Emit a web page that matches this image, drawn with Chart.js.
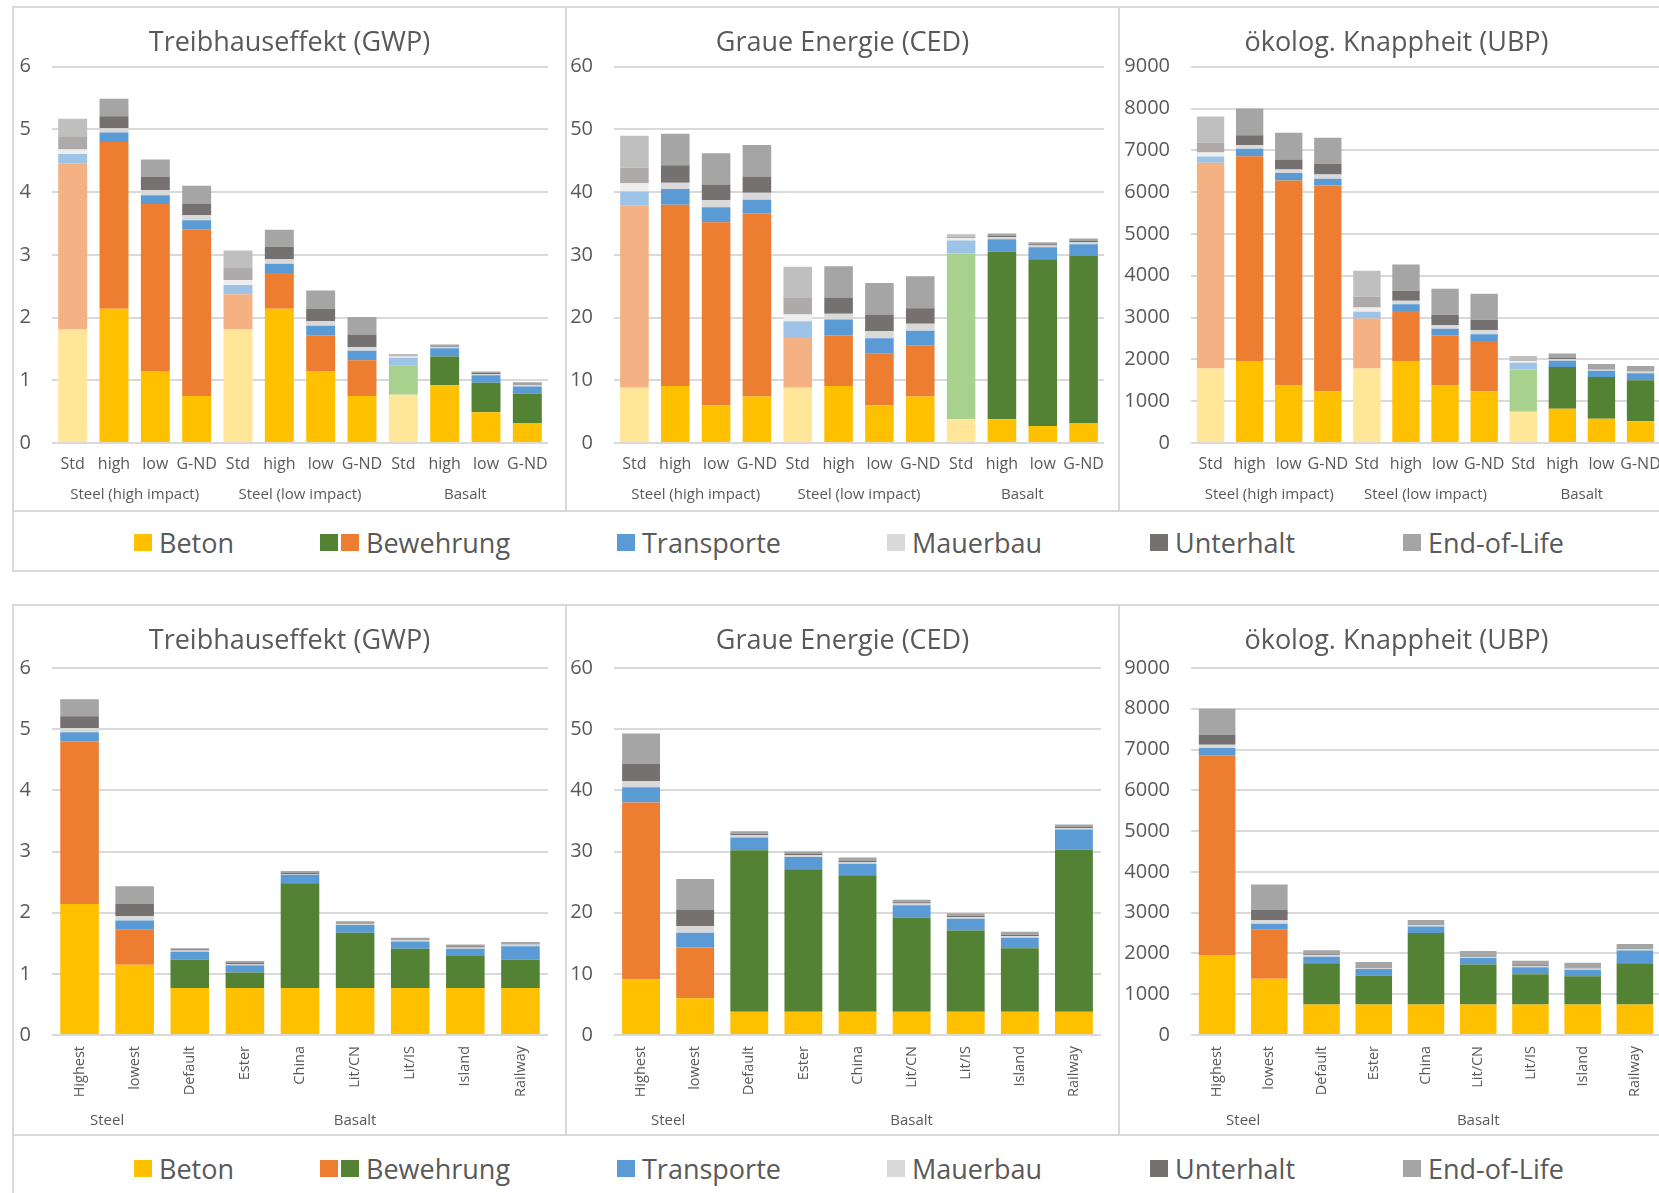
<!DOCTYPE html>
<html lang="de">
<head>
<meta charset="utf-8">
<title>Ökobilanz Bewehrung</title>
<script src="https://cdn.jsdelivr.net/npm/chart.js@4.4.1/dist/chart.umd.min.js"></script>
<style>
  html, body { margin: 0; padding: 0; background: #fff; }
  body { width: 1659px; height: 1193px; overflow: hidden; position: relative; font-family: 'Open Sans', sans-serif; }
  .line { position: absolute; background: #d9d9d9; }
  canvas { position: absolute; }
  .legend-item { position: absolute; display: flex; align-items: center; height: 40px; color: #595959; font-size: 27px; white-space: nowrap; }
  .sw { width: 18px; height: 17px; margin-right: 3px; }
  .legend-text { margin-left: 4px; }
</style>
</head>
<body>

<!-- frame, upper block -->
<div class="line" style="left:12px; top:6px; width:1700px; height:2px"></div>
<div class="line" style="left:12px; top:6px; width:2px; height:566px"></div>
<div class="line" style="left:565px; top:6px; width:2px; height:506px"></div>
<div class="line" style="left:1118px; top:6px; width:2px; height:506px"></div>
<div class="line" style="left:12px; top:510px; width:1700px; height:2px"></div>
<div class="line" style="left:12px; top:570px; width:1700px; height:2px"></div>

<!-- frame, lower block -->
<div class="line" style="left:12px; top:604px; width:1700px; height:2px"></div>
<div class="line" style="left:12px; top:604px; width:2px; height:600px"></div>
<div class="line" style="left:565px; top:604px; width:2px; height:532px"></div>
<div class="line" style="left:1118px; top:604px; width:2px; height:532px"></div>
<div class="line" style="left:12px; top:1134px; width:1700px; height:2px"></div>

<canvas id="gwpTop" width="551" height="502" style="left:14px; top:8px"></canvas>
<canvas id="cedTop" width="551" height="502" style="left:567px; top:8px"></canvas>
<canvas id="ubpTop" width="553" height="502" style="left:1120px; top:8px"></canvas>

<canvas id="gwpBottom" width="551" height="528" style="left:14px; top:606px"></canvas>
<canvas id="cedBottom" width="551" height="528" style="left:567px; top:606px"></canvas>
<canvas id="ubpBottom" width="553" height="528" style="left:1120px; top:606px"></canvas>

<div id="legendTop"></div>
<div id="legendBottom"></div>

<script>
const seriesNames = ['Beton', 'Bewehrung', 'Transporte', 'Mauerbau', 'Unterhalt', 'End-of-Life'];

// upper row: reinforcement variants
const topCategories = ['Std', 'high', 'low', 'G-ND', 'Std', 'high', 'low', 'G-ND', 'Std', 'high', 'low', 'G-ND'];
const topGroups = ['Steel (high impact)', 'Steel (low impact)', 'Basalt'];
const topGroupSpans = [[0, 3], [4, 7], [8, 11]];
const topMaterial = ['steel', 'steel', 'steel', 'steel', 'steel', 'steel', 'steel', 'steel', 'basalt', 'basalt', 'basalt', 'basalt'];
const topStd = [true, false, false, false, true, false, false, false, true, false, false, false];

// lower row: basalt origins
const bottomCategories = ['Highest', 'lowest', 'Default', 'Ester', 'China', 'Lit/CN', 'Lit/IS', 'Island', 'Railway'];
const bottomGroups = ['Steel', 'Basalt'];
const bottomGroupSpans = [[0, 1], [2, 8]];
const bottomMaterial = ['steel', 'steel', 'basalt', 'basalt', 'basalt', 'basalt', 'basalt', 'basalt', 'basalt'];
const bottomStd = [false, false, false, false, false, false, false, false, false];

// rows follow seriesNames: Beton, Bewehrung, Transporte, Mauerbau, Unterhalt, End-of-Life
const gwpTop = [
  [1.81, 2.14, 1.15, 0.75, 1.81, 2.14, 1.15, 0.75, 0.77, 0.92, 0.49, 0.32],
  [2.65, 2.66, 2.66, 2.65, 0.56, 0.57, 0.57, 0.57, 0.46, 0.46, 0.47, 0.47],
  [0.15, 0.15, 0.14, 0.15, 0.15, 0.15, 0.15, 0.15, 0.13, 0.13, 0.12, 0.11],
  [0.07, 0.07, 0.08, 0.08, 0.08, 0.07, 0.07, 0.06, 0.02, 0.02, 0.02, 0.03],
  [0.21, 0.19, 0.21, 0.19, 0.19, 0.20, 0.20, 0.20, 0.02, 0.01, 0.02, 0.02],
  [0.28, 0.28, 0.28, 0.28, 0.28, 0.27, 0.29, 0.28, 0.02, 0.03, 0.02, 0.02]
];
const cedTop = [
  [8.8, 9.1, 6.0, 7.4, 8.8, 9.1, 6.0, 7.4, 3.8, 3.8, 2.7, 3.2],
  [29.1, 28.9, 29.2, 29.2, 8.1, 8.1, 8.3, 8.2, 26.4, 26.7, 26.6, 26.7],
  [2.2, 2.5, 2.4, 2.2, 2.5, 2.5, 2.4, 2.3, 2.1, 2.0, 1.9, 1.8],
  [1.3, 1.0, 1.1, 1.1, 1.1, 0.9, 1.1, 1.1, 0.4, 0.3, 0.3, 0.3],
  [2.5, 2.8, 2.5, 2.6, 2.6, 2.6, 2.7, 2.5, 0.2, 0.2, 0.2, 0.2],
  [5.1, 5.0, 5.0, 5.0, 5.0, 5.0, 5.0, 5.1, 0.4, 0.4, 0.3, 0.4]
];
const ubpTop = [
  [1780, 1960, 1380, 1240, 1780, 1960, 1380, 1240, 750, 820, 580, 520],
  [4920, 4900, 4900, 4920, 1200, 1200, 1200, 1200, 1010, 1000, 1000, 980],
  [150, 180, 180, 160, 160, 160, 150, 160, 160, 150, 150, 170],
  [100, 80, 80, 100, 100, 80, 90, 100, 40, 40, 30, 40],
  [240, 240, 240, 260, 260, 240, 250, 250, 20, 20, 20, 20],
  [620, 640, 640, 620, 620, 630, 620, 620, 100, 110, 110, 110]
];
const gwpBottom = [
  [2.14, 1.15, 0.77, 0.77, 0.77, 0.77, 0.77, 0.77, 0.77],
  [2.66, 0.57, 0.46, 0.25, 1.71, 0.90, 0.64, 0.52, 0.46],
  [0.15, 0.15, 0.13, 0.12, 0.14, 0.13, 0.12, 0.12, 0.22],
  [0.07, 0.07, 0.02, 0.02, 0.01, 0.02, 0.02, 0.02, 0.03],
  [0.19, 0.20, 0.02, 0.02, 0.02, 0.02, 0.01, 0.02, 0.01],
  [0.28, 0.29, 0.02, 0.03, 0.03, 0.02, 0.03, 0.03, 0.03]
];
const cedBottom = [
  [9.1, 6.0, 3.8, 3.8, 3.8, 3.8, 3.8, 3.8, 3.8],
  [28.9, 8.3, 26.4, 23.3, 22.3, 15.4, 13.3, 10.4, 26.5],
  [2.5, 2.4, 2.1, 2.0, 1.9, 2.0, 1.9, 1.7, 3.3],
  [1.0, 1.1, 0.4, 0.3, 0.3, 0.3, 0.3, 0.3, 0.2],
  [2.8, 2.7, 0.2, 0.2, 0.2, 0.2, 0.2, 0.2, 0.2],
  [5.0, 5.0, 0.4, 0.4, 0.5, 0.4, 0.4, 0.5, 0.4]
];
const ubpBottom = [
  [1960, 1380, 750, 750, 750, 750, 750, 750, 750],
  [4900, 1200, 1010, 710, 1750, 980, 740, 690, 1010],
  [180, 150, 160, 160, 160, 160, 170, 160, 310],
  [80, 90, 40, 30, 30, 30, 30, 30, 30],
  [240, 250, 20, 20, 20, 20, 20, 20, 20],
  [640, 620, 100, 120, 110, 120, 110, 120, 110]
];

// [normal, Std variant]
const palette = {
  beton: ['#FFC000', '#FFE699'],
  steel: ['#ED7D31', '#F4B183'],
  basalt: ['#548235', '#A9D18E'],
  transporte: ['#5B9BD5', '#9DC3E6'],
  mauerbau: ['#D9D9D9', '#EEEEEE'],
  unterhalt: ['#767171', '#AEAAAA'],
  eol: ['#A5A5A5', '#BFBFBF']
};
const seriesKeys = ['beton', null, 'transporte', 'mauerbau', 'unterhalt', 'eol'];

Chart.defaults.font.family = "'Open Sans', sans-serif";
Chart.defaults.color = '#595959';

function colorFor(s, material, std) {
  const key = s === 1 ? material : seriesKeys[s];
  return palette[key][std ? 1 : 0];
}

function buildDatasets(values, material, std) {
  return seriesNames.map((name, s) => ({
    label: name,
    data: values[s],
    backgroundColor: values[s].map((v, i) => colorFor(s, material[i], std[i])),
    borderWidth: 0,
    categoryPercentage: 1,
    barPercentage: 0.7,
    stack: 'all'
  }));
}

// second row of the category axis (Steel / Basalt ...)
const groupLabels = {
  id: 'groupLabels',
  afterDraw(chart, args, opts) {
    const x = chart.scales.x;
    const ctx = chart.ctx;
    ctx.save();
    ctx.font = "15px 'Open Sans'";
    ctx.fillStyle = '#595959';
    ctx.textAlign = 'center';
    ctx.textBaseline = 'middle';
    opts.names.forEach((name, i) => {
      const span = opts.spans[i];
      const cx = (x.getPixelForValue(span[0]) + x.getPixelForValue(span[1])) / 2;
      ctx.fillText(name, cx, opts.y);
    });
    ctx.restore();
  }
};

function makeChart(id, cfg) {
  return new Chart(document.getElementById(id), {
    type: 'bar',
    data: {
      labels: cfg.labels,
      datasets: buildDatasets(cfg.values, cfg.material, cfg.std)
    },
    plugins: [groupLabels],
    options: {
      responsive: false,
      animation: false,
      layout: { padding: 0 },
      plugins: {
        legend: { display: false },
        tooltip: { enabled: false },
        title: {
          display: true,
          text: cfg.title,
          color: '#595959',
          font: { size: 27, weight: 'normal' },
          padding: cfg.titlePad
        },
        groupLabels: { names: cfg.groups, spans: cfg.spans, y: cfg.groupY }
      },
      scales: {
        x: {
          stacked: true,
          grid: { display: false, drawTicks: false },
          border: { display: false },
          ticks: {
            autoSkip: false,
            maxRotation: cfg.rotation,
            minRotation: cfg.rotation,
            padding: cfg.tickPad,
            color: '#595959',
            font: { size: cfg.rotation ? 14.5 : 16 }
          },
          afterFit: s => { s.height = cfg.xHeight; }
        },
        y: {
          stacked: true,
          min: 0,
          max: cfg.max,
          ticks: {
            stepSize: cfg.step,
            padding: 21,
            color: '#595959',
            font: { size: 20 },
            callback: v => String(v)
          },
          grid: { color: '#D9D9D9', lineWidth: 2, drawTicks: false },
          border: { display: false },
          afterFit: s => { s.width = cfg.yWidth; }
        },
        // empty margin on the right so the title stays centred on the panel
        margin: {
          position: 'right',
          grid: { display: false, drawTicks: false },
          border: { display: false },
          ticks: { display: false },
          afterFit: s => { s.width = cfg.padRight; }
        }
      }
    }
  });
}

const topRow = {
  labels: topCategories, groups: topGroups, spans: topGroupSpans,
  material: topMaterial, std: topStd,
  rotation: 0, tickPad: 12, xHeight: 67, groupY: 487,
  titlePad: { top: 19, bottom: 7.3 }
};
const bottomRow = {
  labels: bottomCategories, groups: bottomGroups, spans: bottomGroupSpans,
  material: bottomMaterial, std: bottomStd,
  rotation: 90, tickPad: 11, xHeight: 99, groupY: 515,
  titlePad: { top: 19.5, bottom: 10.1 }
};

makeChart('gwpTop', { ...topRow, title: 'Treibhauseffekt (GWP)', values: gwpTop, max: 6, step: 1, yWidth: 38, padRight: 17 });
makeChart('cedTop', { ...topRow, title: 'Graue Energie (CED)', values: cedTop, max: 60, step: 10, yWidth: 47, padRight: 14 });
makeChart('ubpTop', { ...topRow, title: 'ökolog. Knappheit (UBP)', values: ubpTop, max: 9000, step: 1000, yWidth: 71, padRight: 6 });

makeChart('gwpBottom', { ...bottomRow, title: 'Treibhauseffekt (GWP)', values: gwpBottom, max: 6, step: 1, yWidth: 38, padRight: 17 });
makeChart('cedBottom', { ...bottomRow, title: 'Graue Energie (CED)', values: cedBottom, max: 60, step: 10, yWidth: 47, padRight: 17 });
makeChart('ubpBottom', { ...bottomRow, title: 'ökolog. Knappheit (UBP)', values: ubpBottom, max: 9000, step: 1000, yWidth: 71, padRight: 12 });

// shared legends below each row
const legendLeft = [134, 320, 617, 887, 1150, 1403];
const legendSwatches = [
  [palette.beton[0]],
  null,
  [palette.transporte[0]],
  [palette.mauerbau[0]],
  [palette.unterhalt[0]],
  [palette.eol[0]]
];

function buildLegend(id, top, bewehrungColors) {
  const box = document.getElementById(id);
  seriesNames.forEach((name, i) => {
    const item = document.createElement('div');
    item.className = 'legend-item';
    item.style.left = legendLeft[i] + 'px';
    item.style.top = top + 'px';
    const colors = legendSwatches[i] || bewehrungColors;
    colors.forEach(c => {
      const sw = document.createElement('span');
      sw.className = 'sw';
      sw.style.background = c;
      item.appendChild(sw);
    });
    const label = document.createElement('span');
    label.className = 'legend-text';
    label.textContent = name;
    item.appendChild(label);
    box.appendChild(item);
  });
}

buildLegend('legendTop', 522, [palette.basalt[0], palette.steel[0]]);
buildLegend('legendBottom', 1148, [palette.steel[0], palette.basalt[0]]);
</script>
</body>
</html>
